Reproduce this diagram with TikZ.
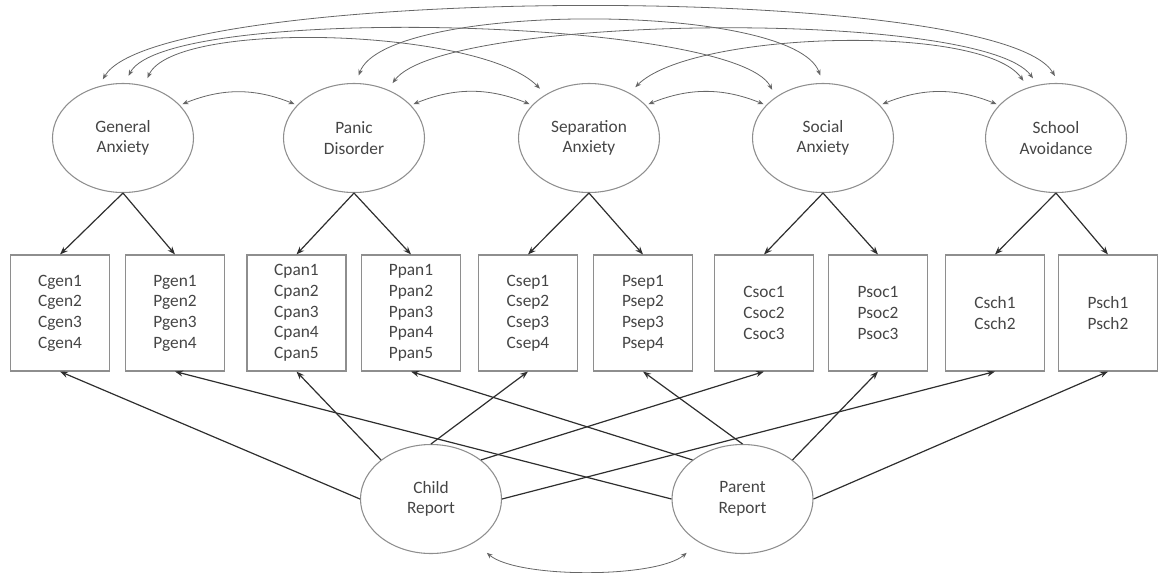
\documentclass[tikz,border=0pt]{standalone}
\usepackage{fontspec}
\setmainfont{Carlito}
\usepackage{tikz}
\usetikzlibrary{shapes.geometric,arrows.meta}

\definecolor{framegray}{HTML}{8E8E8E}
\definecolor{labelgray}{HTML}{454545}
\definecolor{pathgray}{HTML}{2E2E2E}
\definecolor{arcgray}{HTML}{666666}

\begin{document}
\begin{tikzpicture}[x=0.75pt, y=0.75pt,
  font=\fontsize{13}{15.5}\selectfont,
  latent/.style={ellipse, draw=framegray, line width=0.8pt, minimum width=105.75pt, minimum height=81.75pt, inner sep=0pt, align=center, text=labelgray},
  items/.style={rectangle, draw=framegray, line width=0.8pt, minimum width=74.25pt, minimum height=87pt, inner sep=0pt, align=center, text=labelgray},
  loading/.style={-{Stealth[length=6pt,width=4.5pt]}, color=pathgray, line width=0.9pt},
  cov/.style={{Stealth[length=4.5pt,width=3.5pt]}-{Stealth[length=4.5pt,width=3.5pt]}, color=arcgray, line width=0.6pt}]
 \useasboundingbox (0,0) rectangle (1158,-572);

 \node[latent] (ga)  at (123,-138)  {General\\Anxiety};
 \node[latent] (pd)  at (354,-138)  {Panic\\Disorder};
 \node[latent] (sa)  at (589,-138)  {Separation\\Anxiety};
 \node[latent] (soc) at (823,-138)  {Social\\Anxiety};
 \node[latent] (sch) at (1056,-138) {School\\Avoidance};

 \node[items] (cgen) at (60,-313)    {Cgen1\\Cgen2\\Cgen3\\Cgen4};
 \node[items] (pgen) at (175,-313)   {Pgen1\\Pgen2\\Pgen3\\Pgen4};
 \node[items] (cpan) at (296.5,-313) {Cpan1\\Cpan2\\Cpan3\\Cpan4\\Cpan5};
 \node[items] (ppan) at (411,-313)   {Ppan1\\Ppan2\\Ppan3\\Ppan4\\Ppan5};
 \node[items] (csep) at (528,-313)   {Csep1\\Csep2\\Csep3\\Csep4};
 \node[items] (psep) at (643,-313)   {Psep1\\Psep2\\Psep3\\Psep4};
 \node[items] (csoc) at (764,-313)   {Csoc1\\Csoc2\\Csoc3};
 \node[items] (psoc) at (878,-313)   {Psoc1\\Psoc2\\Psoc3};
 \node[items] (csch) at (995,-313)   {Csch1\\Csch2};
 \node[items] (psch) at (1108,-313)  {Psch1\\Psch2};

 \node[latent] (child)  at (431,-499)   {Child\\Report};
 \node[latent] (parent) at (742.5,-499) {Parent\\Report};

 \path[loading]
  (ga.south) edge (cgen.north) edge (pgen.north)
  (pd.south) edge (cpan.north) edge (ppan.north)
  (sa.south) edge (csep.north) edge (psep.north)
  (soc.south) edge (csoc.north) edge (psoc.north)
  (sch.south) edge (csch.north) edge (psch.north)
  (child.west) edge (cgen.south)
  (child.142) edge (cpan.south)
  (child.north) edge (csep.south)
  (child.38) edge (csoc.south)
  (child.east) edge (csch.south)
  (parent.west) edge (pgen.south)
  (parent.142) edge (ppan.south)
  (parent.north) edge (psep.south)
  (parent.38) edge (psoc.south)
  (parent.east) edge (psch.south)
 ;
 \path[cov, shorten <=2pt, shorten >=2pt]
  (ga.30) edge[bend left=22] (pd.150)
  (pd.30) edge[bend left=22] (sa.150)
  (sa.30) edge[bend left=22] (soc.150)
  (soc.30) edge[bend left=22] (sch.150)
 ;
 \path[cov, shorten <=6pt, shorten >=6pt]
  (ga.115) edge[out=60, in=120, distance=88.5pt] (sch.87)
  (ga.88) edge[out=63, in=117, distance=66.75pt] (soc.139)
  (ga.68) edge[out=66, in=134, out distance=54.75pt, in distance=69pt] (sa.135)
  (pd.88) edge[out=70, in=110, distance=65.25pt] (soc.90)
  (pd.55) edge[out=54, in=126, distance=70.5pt] (sch.109)
  (sa.48) edge[out=45, in=125, out distance=65.25pt, in distance=59.25pt] (sch.119)
 ;
 \path[cov, shorten <=12pt, shorten >=12pt]
  (child.-45) edge[out=-40, in=-140, distance=42pt] (parent.-135)
 ;
\end{tikzpicture}
\end{document}
